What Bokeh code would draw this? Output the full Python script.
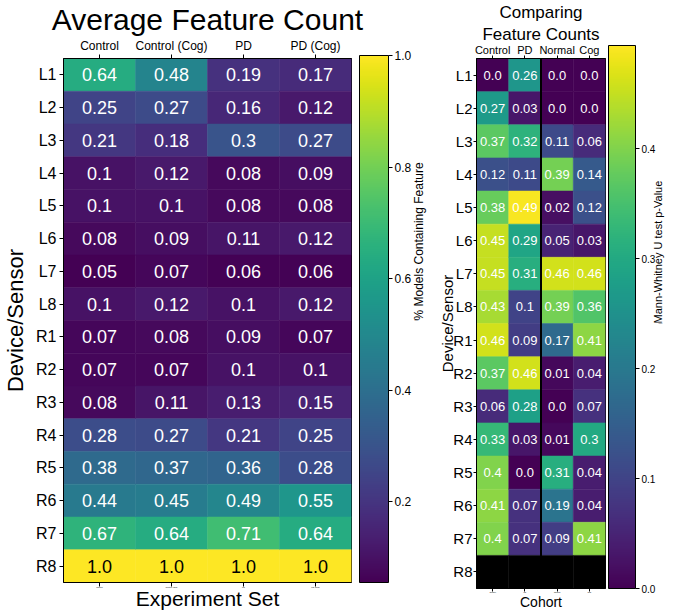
import numpy as np
from bokeh.plotting import figure
from bokeh.models import (ColumnDataSource, LinearColorMapper, ColorBar, FixedTicker,
                          Span, CategoricalAxis, FactorRange, PrintfTickFormatter, Title)
from bokeh.layouts import row, column
from bokeh.palettes import Viridis256
from bokeh.core.properties import value
from bokeh.embed import file_html
from bokeh.resources import INLINE

FONT = "Liberation Sans"

rows = ["L1", "L2", "L3", "L4", "L5", "L6", "L7", "L8",
        "R1", "R2", "R3", "R4", "R5", "R6", "R7", "R8"]

# Left heatmap: average feature count
exp_sets = ["Control", "Control (Cog)", "PD", "PD (Cog)"]
avg_control = [0.64, 0.25, 0.21, 0.1, 0.1, 0.08, 0.05, 0.1, 0.07, 0.07, 0.08, 0.28, 0.38, 0.44, 0.67, 1.0]
avg_control_cog = [0.48, 0.27, 0.18, 0.12, 0.1, 0.09, 0.07, 0.12, 0.08, 0.07, 0.11, 0.27, 0.37, 0.45, 0.64, 1.0]
avg_pd = [0.19, 0.16, 0.3, 0.08, 0.08, 0.11, 0.06, 0.1, 0.09, 0.1, 0.13, 0.21, 0.36, 0.49, 0.71, 1.0]
avg_pd_cog = [0.17, 0.12, 0.27, 0.09, 0.08, 0.12, 0.06, 0.12, 0.07, 0.1, 0.15, 0.25, 0.28, 0.55, 0.64, 1.0]
avg_ticks = [0.2, 0.4, 0.6, 0.8, 1.0]

# Right heatmap: Mann-Whitney U test p-values (R8 missing)
cohorts = ["Control", "PD", "Normal", "Cog"]
nan = float("nan")
p_control = [0.0, 0.27, 0.37, 0.12, 0.38, 0.45, 0.45, 0.43, 0.46, 0.37, 0.06, 0.33, 0.4, 0.41, 0.4, nan]
p_pd = [0.26, 0.03, 0.32, 0.11, 0.49, 0.29, 0.31, 0.1, 0.09, 0.46, 0.28, 0.03, 0.0, 0.07, 0.07, nan]
p_normal = [0.0, 0.0, 0.11, 0.39, 0.02, 0.05, 0.46, 0.39, 0.17, 0.01, 0.0, 0.01, 0.31, 0.19, 0.09, nan]
p_cog = [0.0, 0.0, 0.06, 0.14, 0.12, 0.03, 0.46, 0.36, 0.41, 0.04, 0.07, 0.3, 0.04, 0.04, 0.41, nan]
p_ticks = [0.0, 0.1, 0.2, 0.3, 0.4]


def build_source(cols, series, dark_text_at=None):
    xs, ys, vals, labels, tcol = [], [], [], [], []
    for c, s in zip(cols, series):
        for r, v in zip(rows, s):
            xs.append(c)
            ys.append(r)
            vals.append(v)
            labels.append("" if v != v else str(v))
            tcol.append("black" if (dark_text_at is not None and v >= dark_text_at) else "white")
    return ColumnDataSource(dict(x=xs, y=ys, v=vals, label=labels, tc=tcol))


def style_axis(ax, tick_out=4):
    ax.axis_line_color = "black"
    ax.major_tick_line_color = "black"
    ax.major_tick_in = 0
    ax.major_tick_out = tick_out
    ax.minor_tick_line_color = None
    ax.major_label_text_font = FONT
    ax.major_label_text_color = "black"
    ax.axis_label_text_font = FONT
    ax.axis_label_text_font_style = "normal"
    ax.axis_label_text_color = "black"


def cbar_label_axis(p, text, size, standoff):
    p.extra_y_ranges = {"cbar": FactorRange(factors=["cbar"])}
    ax = CategoricalAxis(y_range_name="cbar", major_label_overrides={"cbar": " "},
                         major_label_text_font_size="2px",
                         axis_line_color=None, major_tick_line_color=None, minor_tick_line_color=None,
                         major_tick_out=0, major_tick_in=0, major_label_standoff=0,
                         axis_label=text, axis_label_standoff=standoff,
                         axis_label_text_font=FONT, axis_label_text_font_style="normal",
                         axis_label_text_font_size=size, axis_label_text_color="black",
                         axis_label_orientation=np.pi / 2)
    p.add_layout(ax, "right")


def make_title(text, size, standoff):
    return Title(text=text, align="center", text_font=FONT, text_font_size=size,
                 text_font_style="normal", text_color="black", standoff=standoff,
                 text_line_height=1.0)


# ---------------- Left figure ----------------
mapper1 = LinearColorMapper(palette=Viridis256, low=0.055, high=1.0)
src1 = build_source(exp_sets, [avg_control, avg_control_cog, avg_pd, avg_pd_cog], dark_text_at=0.9)

p1 = figure(width=436, height=612, title=None,
            x_range=FactorRange(factors=exp_sets),
            y_range=FactorRange(factors=list(reversed(rows))),
            x_axis_location="above", output_backend="svg", toolbar_location=None,
            min_border_left=63, min_border_top=56, min_border_bottom=29, min_border_right=83)
p1.add_layout(make_title("Average Feature Count", "30px", 0), "above")
p1.grid.visible = False
p1.outline_line_color = "black"

p1.rect(x="x", y="y", width=1, height=1, source=src1,
        fill_color={"field": "v", "transform": mapper1},
        line_color={"field": "v", "transform": mapper1}, line_width=0.5)
p1.text(x="x", y="y", text="label", source=src1, text_align="center", text_baseline="middle",
        text_color="tc", text_font_size="18px", text_font=value(FONT))

for ax in p1.xaxis:
    style_axis(ax)
    ax.major_label_text_font_size = "12px"
    ax.major_label_standoff = 2
for ax in p1.yaxis:
    style_axis(ax)
    ax.major_label_text_font_size = "16px"
    ax.major_label_standoff = 3
    ax.axis_label = "Device/Sensor"
    ax.axis_label_text_font_size = "22px"
    ax.axis_label_standoff = 5

bax1 = CategoricalAxis(major_label_overrides={c: " " for c in exp_sets})
style_axis(bax1)
bax1.major_label_text_font_size = "2px"
bax1.major_label_standoff = 0
bax1.axis_label = "Experiment Set"
bax1.axis_label_text_font_size = "21px"
bax1.axis_label_standoff = -5
p1.add_layout(bax1, "below")

cb1 = ColorBar(color_mapper=mapper1, ticker=FixedTicker(ticks=avg_ticks),
               formatter=PrintfTickFormatter(format="%.1f"), width=29, height=527,
               padding=0, margin=0, location=(8, 0), bar_line_color="black",
               major_tick_line_color="black", major_tick_in=0, major_tick_out=4,
               major_label_text_font_size="12px", major_label_text_font=FONT,
               major_label_text_color="black", label_standoff=2,
               background_fill_alpha=0, border_line_color=None)
p1.add_layout(cb1, "right")
cbar_label_axis(p1, "% Models Containing Feature", "12px", -2)

# ---------------- Right figure ----------------
mapper2 = LinearColorMapper(palette=Viridis256, low=0.0, high=0.494, nan_color="black")
src2 = build_source(cohorts, [p_control, p_pd, p_normal, p_cog])

p2 = figure(width=237, height=612, title=None,
            x_range=FactorRange(factors=cohorts),
            y_range=FactorRange(factors=list(reversed(rows))),
            x_axis_location="above", output_backend="svg", toolbar_location=None,
            min_border_left=38, min_border_top=50, min_border_bottom=19, min_border_right=61)
p2.add_layout(make_title("Comparing", "17px", 0), "above")
p2.grid.visible = False
p2.outline_line_color = "black"

p2.rect(x="x", y="y", width=1, height=1, source=src2,
        fill_color={"field": "v", "transform": mapper2},
        line_color={"field": "v", "transform": mapper2}, line_width=0.5)
p2.text(x="x", y="y", text="label", source=src2, text_align="center", text_baseline="middle",
        text_color="tc", text_font_size="13px", text_font=value(FONT))
p2.add_layout(Span(location=2, dimension="height", line_color="black", line_width=2))

for ax in p2.xaxis:
    style_axis(ax, 3)
    ax.major_label_text_font_size = "11px"
    ax.major_label_standoff = 0
    ax.axis_label = "Feature Counts"
    ax.axis_label_text_font_size = "17px"
    ax.axis_label_standoff = -3
for ax in p2.yaxis:
    style_axis(ax, 3)
    ax.major_label_text_font_size = "15px"
    ax.major_label_standoff = 1
    ax.axis_label = "Device/Sensor"
    ax.axis_label_text_font_size = "15px"
    ax.axis_label_standoff = -6

bax2 = CategoricalAxis(major_label_overrides={c: " " for c in cohorts})
style_axis(bax2, 3)
bax2.major_label_text_font_size = "2px"
bax2.major_label_standoff = 0
bax2.axis_label = "Cohort"
bax2.axis_label_text_font_size = "14px"
bax2.axis_label_standoff = -3
p2.add_layout(bax2, "below")

cb2 = ColorBar(color_mapper=mapper2, ticker=FixedTicker(ticks=p_ticks),
               formatter=PrintfTickFormatter(format="%.1f"), width=27, height=543,
               padding=0, margin=0, location=(3, 0), bar_line_color="black",
               major_tick_line_color="black", major_tick_in=0, major_tick_out=4,
               major_label_text_font_size="10px", major_label_text_font=FONT,
               major_label_text_color="black", label_standoff=2,
               background_fill_alpha=0, border_line_color=None)
p2.add_layout(cb2, "right")
cbar_label_axis(p2, "Mann-Whitney U test p-Value", "11px", -7)

layout = row(p1, column(p2))
open("out.html", "w").write(file_html(layout, INLINE))
